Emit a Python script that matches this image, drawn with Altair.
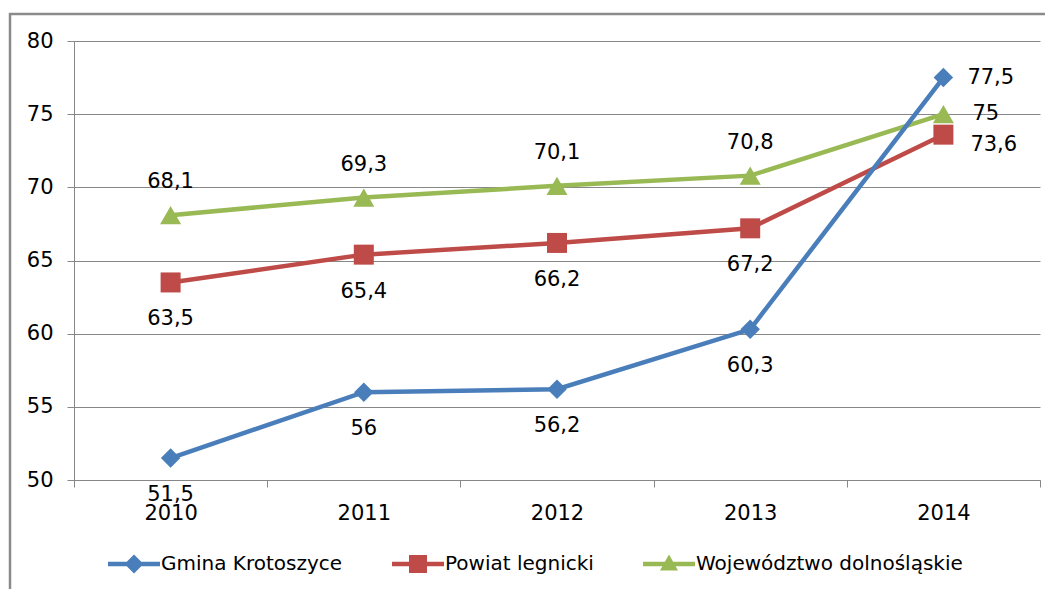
import altair as alt
import pandas as pd

# ---- data ----
years = ["2010", "2011", "2012", "2013", "2014"]
series = ["Gmina Krotoszyce", "Powiat legnicki", "Województwo dolnośląskie"]
gmina = [51.5, 56, 56.2, 60.3, 77.5]
powiat = [63.5, 65.4, 66.2, 67.2, 73.6]
wojewodztwo = [68.1, 69.3, 70.1, 70.8, 75]
colors = ["#4a7ebb", "#be4b48", "#98b954"]
y_ticks = [50, 55, 60, 65, 70, 75, 80]

rows = []
for s, vals in zip(series, [gmina, powiat, wojewodztwo]):
    for yr, v in zip(years, vals):
        rows.append({"year": yr, "series": s, "value": v,
                     "label": ("%g" % v).replace(".", ",")})
df = pd.DataFrame(rows)

FONT = "DejaVu Sans"
FS = 21
GRAY = "#878787"
W, H = 966, 439
col = dict(zip(series, colors))

x_enc = alt.X(
    "year:N", sort=years, bandPosition=0.5,
    scale=alt.Scale(type="band", domain=years, paddingInner=0, paddingOuter=0),
    axis=alt.Axis(title=None, tickBand="extent", grid=False, domainColor=GRAY,
                  tickColor=GRAY, tickSize=7, labelFont=FONT, labelFontSize=FS,
                  labelColor="black", labelPadding=15, labelAngle=0),
)
y_enc = alt.Y(
    "value:Q",
    scale=alt.Scale(domain=[50, 80], nice=False, zero=False),
    axis=alt.Axis(title=None, values=y_ticks, grid=True, gridColor=GRAY,
                  domainColor=GRAY, tickColor=GRAY, tickSize=7, labelFont=FONT,
                  labelFontSize=FS, labelColor="black", labelPadding=14),
)

base = alt.Chart(df)

shapes = {series[0]: ("diamond", 380), series[1]: ("square", 400), series[2]: ("triangle-up", 441)}
line_order = [series[2], series[1], series[0]]

lines = [
    base.transform_filter(alt.datum.series == s)
    .mark_line(strokeWidth=4.5, color=col[s])
    .encode(x=x_enc, y=y_enc)
    for s in line_order
]
points = [
    base.transform_filter(alt.datum.series == s)
    .mark_point(shape=shapes[s][0], size=shapes[s][1], filled=True, opacity=1, color=col[s])
    .encode(x=x_enc, y=y_enc)
    for s in line_order
]

txt = dict(font=FONT, fontSize=FS, color="black", baseline="middle")
above = (base.transform_filter((alt.datum.series == series[2]) & (alt.datum.year != "2014"))
         .mark_text(dy=-33, **txt).encode(x=x_enc, y=y_enc, text="label:N"))
below = (base.transform_filter((alt.datum.series != series[2]) & (alt.datum.year != "2014"))
         .mark_text(dy=37, **txt).encode(x=x_enc, y=y_enc, text="label:N"))
right_off = {series[0]: (24, 0), series[1]: (27, 10), series[2]: (29, 0)}
right = [
    base.transform_filter((alt.datum.series == s) & (alt.datum.year == "2014"))
    .mark_text(dx=right_off[s][0], dy=right_off[s][1], align="left", **txt)
    .encode(x=x_enc, y=y_enc, text="label:N")
    for s in series
]

# legend: line + marker symbols
bar = "M-5.2,-0.45H5.2V0.45H-5.2Z "
legend_paths = [
    bar + "M0,-1.9L1.9,0L0,1.9L-1.9,0Z",
    bar + "M-1.8,-1.8H1.8V1.8H-1.8Z",
    bar + "M0,-1.9L1.8,1.3L-1.8,1.3Z",
]
leg = alt.Legend(orient="none", legendX=50, legendY=513, direction="horizontal",
                 columns=3, title=None, labelFont=FONT, labelFontSize=20,
                 labelColor="black", labelOffset=17, columnPadding=49,
                 symbolSize=100, symbolStrokeWidth=0, labelLimit=0)
legend_layer = (
    base.transform_filter("false")
    .mark_point(filled=True, size=100, opacity=1)
    .encode(
        x=x_enc, y=y_enc,
        color=alt.Color("series:N", scale=alt.Scale(domain=series, range=colors), legend=leg),
        shape=alt.Shape("series:N", scale=alt.Scale(domain=series, range=legend_paths), legend=leg),
    )
)

frame = (
    alt.Chart(pd.DataFrame({"k": [0]}))
    .mark_rect(filled=False, stroke="#8a8a8a", strokeWidth=2.5, clip=False)
    .encode(x=alt.value(-64), x2=alt.value(W + 60), y=alt.value(-27), y2=alt.value(H + 200))
)

chart = (
    alt.layer(frame, *lines, *points, above, below, *right, legend_layer)
    .properties(width=W, height=H,
                padding={"left": 66, "top": 33, "right": 5, "bottom": 109},
                autosize=alt.AutoSizeParams(type="none"))
    .configure_view(stroke=None)
)

chart.save("out.html", embed_options={"renderer": "svg", "actions": False})
